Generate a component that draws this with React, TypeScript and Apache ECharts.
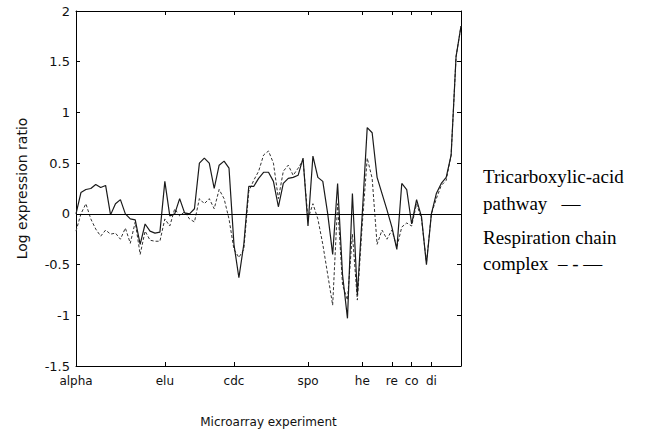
import React, { useEffect, useRef } from "react";
import * as echarts from "echarts";

const experiments = ["alpha", "elu", "cdc", "spo", "he", "re", "co", "di"];
const experimentStarts = [0, 18, 32, 47, 58, 64, 68, 72];
const yTicks = { min: -1.5, max: 2, step: 0.5 };

const tcaPathway = [
  0.0, 0.21, 0.24, 0.25, 0.29, 0.26, 0.28, -0.01, 0.1, 0.14,
  0.0, -0.05, -0.06, -0.3, -0.1, -0.17, -0.19, -0.18, 0.32, -0.02,
  0.0, 0.15, 0.01, 0.0, 0.05, 0.5, 0.55, 0.5, 0.25, 0.48,
  0.52, 0.45, -0.3, -0.63, -0.3, 0.27, 0.27, 0.35, 0.41, 0.41,
  0.32, 0.07, 0.3, 0.35, 0.36, 0.38, 0.55, -0.12, 0.57, 0.36,
  0.32, 0.0, -0.4, 0.3, -0.6, -1.03, 0.2, -0.8, 0.0, 0.85,
  0.8, 0.36, 0.2, 0.04, -0.13, -0.35, 0.3, 0.24, -0.1, 0.14,
  -0.03, -0.5, 0.0, 0.2, 0.3, 0.36, 0.58, 1.55, 1.85,
];

const respirationChain = [
  -0.17, 0.0, 0.1, -0.05, -0.15, -0.22, -0.16, -0.2, -0.19, -0.25,
  -0.14, -0.29, -0.08, -0.4, -0.17, -0.26, -0.27, -0.27, -0.05, -0.12,
  0.05, -0.02, 0.02, -0.05, -0.08, 0.15, 0.1, 0.15, 0.05, 0.24,
  0.15, -0.05, -0.35, -0.43, -0.35, 0.22, 0.33, 0.42, 0.58, 0.62,
  0.5, 0.15, 0.42, 0.48, 0.38, 0.45, 0.53, -0.05, 0.1, -0.05,
  -0.3, -0.6, -0.9, 0.1, -0.7, -0.85, -0.2, -0.85, -0.1, 0.55,
  0.35, -0.3, -0.16, -0.25, -0.16, -0.33, -0.13, -0.09, -0.12, 0.1,
  -0.05, -0.48, 0.0, 0.15, 0.28, 0.33, 0.58, 1.55, 1.85,
];

const legendLines = [
  "Tricarboxylic-acid",
  "pathway   —",
  "Respiration chain",
  "complex  – - —",
];

const SANS = "DejaVu Sans";
const SERIF = "Liberation Serif";

export default function App() {
  const ref = useRef<HTMLDivElement>(null);

  useEffect(() => {
    if (!ref.current) return;
    const chart = echarts.init(ref.current, undefined, { renderer: "svg" });
    const lastX = tcaPathway.length - 1;
    const labelFor = (v: number) => {
      const k = experimentStarts.indexOf(v);
      return k >= 0 ? experiments[k] : "";
    };
    const axisLineStyle = { color: "#000", width: 1 };

    const legendY = [178, 205, 239, 265];

    const option: any = {
      animation: false,
      backgroundColor: "#fff",
      grid: { left: 76, top: 11, right: 184, bottom: 66 },
      xAxis: [
        {
          type: "value",
          min: 0,
          max: lastX,
          position: "bottom",
          axisLine: { show: true, onZero: false, lineStyle: axisLineStyle },
          axisTick: {
            show: true,
            inside: true,
            length: 4,
            customValues: experimentStarts,
            lineStyle: axisLineStyle,
          },
          axisLabel: {
            customValues: experimentStarts,
            formatter: (v: number) => labelFor(v),
            fontFamily: SANS,
            fontSize: 12,
            color: "#111",
            margin: 9,
          },
          splitLine: { show: false },
          name: "Microarray experiment",
          nameLocation: "middle",
          nameGap: 50,
          nameTextStyle: { fontFamily: SANS, fontSize: 12, color: "#111" },
        },
        {
          type: "value",
          min: 0,
          max: lastX,
          position: "top",
          axisLine: { show: true, onZero: false, lineStyle: axisLineStyle },
          axisTick: {
            show: true,
            inside: true,
            length: 4,
            customValues: experimentStarts,
            lineStyle: axisLineStyle,
          },
          axisLabel: { show: false },
          splitLine: { show: false },
        },
      ],
      yAxis: [
        {
          type: "value",
          min: yTicks.min,
          max: yTicks.max,
          interval: yTicks.step,
          position: "left",
          axisLine: { show: true, onZero: false, lineStyle: axisLineStyle },
          axisTick: { show: true, inside: true, length: 4, lineStyle: axisLineStyle },
          axisLabel: {
            fontFamily: SANS,
            fontSize: 13,
            color: "#111",
            margin: 6,
          },
          splitLine: { show: false },
          name: "Log expression ratio",
          nameLocation: "middle",
          nameGap: 47,
          nameRotate: 90,
          nameTextStyle: { fontFamily: SANS, fontSize: 14, color: "#111" },
        },
        {
          type: "value",
          min: yTicks.min,
          max: yTicks.max,
          interval: yTicks.step,
          position: "right",
          axisLine: { show: true, onZero: false, lineStyle: axisLineStyle },
          axisTick: { show: true, inside: true, length: 4, lineStyle: axisLineStyle },
          axisLabel: { show: false },
          splitLine: { show: false },
        },
      ],
      series: [
        {
          name: "Respiration chain complex",
          type: "line",
          xAxisIndex: 0,
          yAxisIndex: 0,
          symbol: "none",
          showSymbol: false,
          data: respirationChain.map((v, i) => [i, v]),
          lineStyle: { color: "#333", width: 1, type: [3, 2] },
          z: 2,
        },
        {
          name: "Tricarboxylic-acid pathway",
          type: "line",
          xAxisIndex: 0,
          yAxisIndex: 0,
          symbol: "none",
          showSymbol: false,
          data: tcaPathway.map((v, i) => [i, v]),
          lineStyle: { color: "#1a1a1a", width: 1.2 },
          z: 3,
          markLine: {
            silent: true,
            symbol: ["none", "none"],
            label: { show: false },
            lineStyle: { color: "#000", width: 1.2, type: "solid" },
            data: [{ yAxis: 0 }],
          },
        },
      ],
      graphic: legendLines.map((t, i) => ({
        type: "text",
        left: 483,
        top: legendY[i] - 11,
        style: {
          text: t,
          font: `19px "${SERIF}", "Times New Roman", serif`,
          fill: "#000",
        },
      })),
    };

    chart.setOption(option);
    return () => chart.dispose();
  }, []);

  return (
    <div
      ref={ref}
      style={{ position: "fixed", left: 0, top: 0, width: 645, height: 433 }}
    />
  );
}
